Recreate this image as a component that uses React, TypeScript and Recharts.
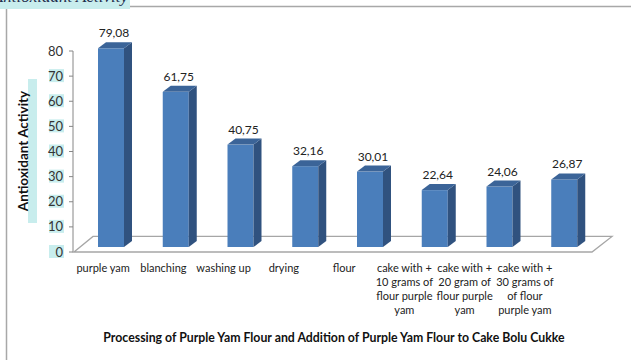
import { BarChart, Bar, XAxis, YAxis, LabelList, ReferenceArea } from 'recharts';

const categories = [
  'purple yam',
  'blanching',
  'washing up',
  'drying',
  'flour',
  'cake with +\n10 grams of\nflour purple\nyam',
  'cake with +\n20 gram of\nflour purple\nyam',
  'cake with +\n30 grams of\nof flour\npurple yam',
];
const activity = [79.08, 61.75, 40.75, 32.16, 30.01, 22.64, 24.06, 26.87];
const yTicks = [0, 10, 20, 30, 40, 50, 60, 70, 80];

const data = categories.map((name, i) => ({ name, value: activity[i] }));

const FONT = 'Lato, "Open Sans", sans-serif';
const HIGHLIGHT = '#c8eded';
const SHIFT_X = 6;
const LIFT = 5;
const DEPTH_X = 8;
const DEPTH_Y = 6;
const FLOOR_DEPTH = 6.2;

function Bar3D(props: any) {
  const { x, y, width, height } = props;
  if (x == null || y == null) return null;
  const fx = x + SHIFT_X;
  const top = y - LIFT;
  const bottom = y + height - LIFT;
  const r = fx + width;
  return (
    <g>
      <rect x={fx} y={top} width={width} height={bottom - top} fill="#4a7ebb" />
      <polygon
        points={`${r},${top} ${r + DEPTH_X},${top - DEPTH_Y} ${r + DEPTH_X},${bottom - DEPTH_Y} ${r},${bottom}`}
        fill="#30527f"
      />
      <polygon
        points={`${fx},${top} ${fx + DEPTH_X},${top - DEPTH_Y} ${r + DEPTH_X},${top - DEPTH_Y} ${r},${top}`}
        fill="#3b6498"
      />
    </g>
  );
}

function Floor(props: any) {
  const { x, y, width, height } = props;
  const b = y + height;
  return (
    <polygon
      points={`${x + 1},${b} ${x + 20},${y} ${x + width + 21},${y} ${x + width + 1},${b}`}
      fill="none"
      stroke="#a6a6a6"
      strokeWidth={1.3}
    />
  );
}

function ValueLabel(props: any) {
  const { x, y, width, value } = props;
  return (
    <text
      x={x + width / 2 + SHIFT_X + 3}
      y={y - LIFT - DEPTH_Y - 5}
      textAnchor="middle"
      fontFamily={FONT}
      fontSize={12}
      fill="#222"
    >
      {Number(value).toFixed(2).replace('.', ',')}
    </text>
  );
}

function YTick(props: any) {
  const { x, y, payload } = props;
  return (
    <g>
      {payload.value !== 80 && (
        <rect x={x - 14} y={y - 7} width={15} height={13} fill={HIGHLIGHT} />
      )}
      <text x={x} y={y} dy={4.5} textAnchor="end" fontFamily={FONT} fontSize={13} fill="#333">
        {payload.value}
      </text>
    </g>
  );
}

function XTick(props: any) {
  const { x, y, payload } = props;
  const lines = String(payload.value).split('\n');
  return (
    <text x={x} y={y} textAnchor="middle" fontFamily={FONT} fontSize={11} fill="#222">
      {lines.map((line, i) => (
        <tspan key={i} x={x} y={y + 20 + i * 14}>
          {line}
        </tspan>
      ))}
    </text>
  );
}

export default function App() {
  return (
    <div style={{ position: 'absolute', left: 0, top: 0, width: 631, height: 360, background: '#fff' }}>
      <BarChart
        width={631}
        height={360}
        data={data}
        margin={{ top: 51, right: 40, left: 28, bottom: 38 }}
      >
        <XAxis
          xAxisId="labels"
          dataKey="name"
          height={70}
          axisLine={false}
          tickLine={false}
          tickSize={0}
          tickMargin={0}
          interval={0}
          padding={{ left: 0, right: 36 }}
          tick={<XTick />}
        />
        <XAxis xAxisId="bars" dataKey="name" hide height={0} />
        <YAxis
          width={45}
          domain={[0, 80]}
          ticks={yTicks}
          interval={0}
          axisLine={{ stroke: '#868686' }}
          tickLine={{ stroke: '#868686' }}
          tickSize={4}
          tickMargin={6}
          tick={<YTick />}
        />
        <ReferenceArea
          xAxisId="bars"
          y1={0}
          y2={FLOOR_DEPTH}
          ifOverflow="visible"
          shape={<Floor />}
        />
        <Bar
          xAxisId="bars"
          dataKey="value"
          barSize={26}
          shape={<Bar3D />}
          isAnimationActive={false}
        >
          <LabelList dataKey="value" content={<ValueLabel />} />
        </Bar>
      </BarChart>
      <svg
        width={631}
        height={360}
        style={{ position: 'absolute', left: 0, top: 0, pointerEvents: 'none' }}
      >
        <line x1={6.5} y1={6} x2={6.5} y2={360} stroke="#a8a8a8" strokeWidth={1.5} />
        <line x1={6} y1={6.5} x2={631} y2={6.5} stroke="#a8a8a8" strokeWidth={1.5} />
        <rect x={0} y={0} width={130} height={9} fill={HIGHLIGHT} />
        <text
          x={128}
          y={2}
          textAnchor="end"
          fontFamily='"Liberation Serif", serif'
          fontStyle="italic"
          fontSize={17}
          fill="#1f2d4d"
        >
          Antioxidant Activity
        </text>
        <rect x={28} y={79} width={9} height={144} fill={HIGHLIGHT} />
        <text
          transform="translate(28,151) rotate(-90)"
          textAnchor="middle"
          fontFamily={FONT}
          fontWeight="bold"
          fontSize={13.5}
          fill="#111"
        >
          Antioxidant Activity
        </text>
        <text
          x={334}
          y={342}
          textAnchor="middle"
          fontFamily={FONT}
          fontWeight="bold"
          fontSize={12.3}
          fill="#111"
        >
          Processing of Purple Yam Flour and Addition of Purple Yam Flour to Cake Bolu Cukke
        </text>
      </svg>
    </div>
  );
}
